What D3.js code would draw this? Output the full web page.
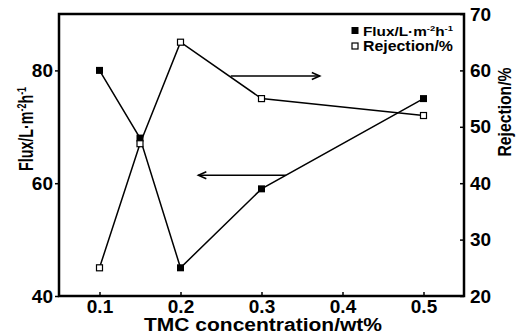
<!DOCTYPE html>
<html>
<head>
<meta charset="utf-8">
<script src="https://d3js.org/d3.v7.min.js"></script>
<style>
    body { margin: 0; background: #fff; }
    text { font-family: "Liberation Sans", Arial, sans-serif; font-weight: bold; fill: #000; }
</style>
</head>
<body>
<div class="chart-container"></div>
<script>
// values
var concentration = [0.1, 0.15, 0.2, 0.3, 0.5];
var flux = [80, 68, 45, 59, 75];
var rejection = [25, 47, 65, 55, 52];
var xTicks = [0.1, 0.2, 0.3, 0.4, 0.5];
var fluxTicks = [40, 60, 80];
var rejectionTicks = [20, 30, 40, 50, 60, 70];

var drawWidth = 517;
var drawHeight = 335;
var margin = { top: 14, right: 53, bottom: 39, left: 59 };
var width = drawWidth - margin.left - margin.right;
var height = drawHeight - margin.top - margin.bottom;

var svg = d3.select('.chart-container').append('svg')
    .attr('width', drawWidth)
    .attr('height', drawHeight);

var g = svg.append('g')
    .attr('transform', 'translate(' + margin.left + ',' + margin.top + ')');

var x = d3.scaleLinear().domain([0.05, 0.55]).range([0, width]);
var yL = d3.scaleLinear().domain([40, 90]).range([height, 0]);
var yR = d3.scaleLinear().domain([20, 70]).range([height, 0]);

// axes: bottom and right ticks point inward, left ticks outward
var xAxis = g.append('g')
    .attr('transform', 'translate(0,' + height + ')')
    .call(d3.axisBottom(x).tickValues(xTicks).tickSize(-4).tickPadding(3).tickFormat(d3.format('.1f')));
var leftAxis = g.append('g')
    .call(d3.axisLeft(yL).tickValues(fluxTicks).tickSize(4).tickPadding(2));
var rightAxis = g.append('g')
    .attr('transform', 'translate(' + width + ',0)')
    .call(d3.axisRight(yR).tickValues(rejectionTicks).tickSize(-4).tickPadding(6));

[xAxis, leftAxis, rightAxis].forEach(function (a) {
    a.select('.domain').remove();
    a.selectAll('.tick line').attr('stroke', '#000').attr('stroke-width', 1.5);
    a.selectAll('.tick text').style('font-size', '19px').attr('font-family', null);
});

// frame
g.append('rect')
    .attr('width', width)
    .attr('height', height)
    .attr('fill', 'none')
    .attr('stroke', '#000')
    .attr('stroke-width', 2.5);

// lines
var fluxLine = d3.line()
    .x(function (d, i) { return x(concentration[i]); })
    .y(function (d) { return yL(d); });
var rejLine = d3.line()
    .x(function (d, i) { return x(concentration[i]); })
    .y(function (d) { return yR(d); });

g.append('path').datum(flux)
    .attr('d', fluxLine).attr('fill', 'none').attr('stroke', '#000').attr('stroke-width', 1.5);
g.append('path').datum(rejection)
    .attr('d', rejLine).attr('fill', 'none').attr('stroke', '#000').attr('stroke-width', 1.5);

g.selectAll('.flux-pt').data(flux).enter().append('rect')
    .attr('class', 'flux-pt')
    .attr('x', function (d, i) { return x(concentration[i]) - 3.5; })
    .attr('y', function (d) { return yL(d) - 3.5; })
    .attr('width', 7).attr('height', 7)
    .attr('fill', '#000');

g.selectAll('.rej-pt').data(rejection).enter().append('rect')
    .attr('class', 'rej-pt')
    .attr('x', function (d, i) { return x(concentration[i]) - 3; })
    .attr('y', function (d) { return yR(d) - 3; })
    .attr('width', 6).attr('height', 6)
    .attr('fill', '#fff').attr('stroke', '#000').attr('stroke-width', 1.2);

// arrows pointing to the axis each curve belongs to
function arrow(x1, x2, yy) {
    var dir = x2 > x1 ? 1 : -1;
    g.append('line')
        .attr('x1', x1).attr('x2', x2).attr('y1', yy).attr('y2', yy)
        .attr('stroke', '#000').attr('stroke-width', 1.5);
    g.append('path')
        .attr('d', 'M' + (x2 - dir * 8) + ',' + (yy - 3.5) + 'L' + x2 + ',' + yy + 'L' + (x2 - dir * 8) + ',' + (yy + 3.5))
        .attr('fill', 'none').attr('stroke', '#000').attr('stroke-width', 1.5);
}
arrow(x(0.262), x(0.372), yR(59));
arrow(x(0.33), x(0.222), yL(61.4));

// axis titles
svg.append('text')
    .attr('x', 263).attr('y', 331)
    .attr('text-anchor', 'middle')
    .attr('textLength', 238).attr('lengthAdjust', 'spacingAndGlyphs')
    .style('font-size', '18px')
    .text('TMC concentration/wt%');

var lt = svg.append('text')
    .attr('transform', 'translate(33,129) rotate(-90)')
    .attr('text-anchor', 'middle')
    .attr('textLength', 84).attr('lengthAdjust', 'spacingAndGlyphs')
    .style('font-size', '21px');
lt.append('tspan').text('Flux/L·m');
lt.append('tspan').attr('dy', -7).style('font-size', '13px').text('-2');
lt.append('tspan').attr('dy', 7).text('h');
lt.append('tspan').attr('dy', -7).style('font-size', '13px').text('-1');

svg.append('text')
    .attr('transform', 'translate(511,112) rotate(-90)')
    .attr('text-anchor', 'middle')
    .attr('textLength', 89).attr('lengthAdjust', 'spacingAndGlyphs')
    .style('font-size', '18px')
    .text('Rejection/%');

// legend
var legend = svg.append('g').attr('transform', 'translate(355,0)');
legend.append('rect').attr('x', -3.5).attr('y', 27).attr('width', 7).attr('height', 7).attr('fill', '#000');
legend.append('rect').attr('x', -3).attr('y', 43).attr('width', 6).attr('height', 6)
    .attr('fill', '#fff').attr('stroke', '#000').attr('stroke-width', 1.2);

var l1 = legend.append('text').attr('x', 8).attr('y', 35.5).style('font-size', '13px')
    .attr('textLength', 90).attr('lengthAdjust', 'spacingAndGlyphs');
l1.append('tspan').text('Flux/L·m');
l1.append('tspan').attr('dy', -5).style('font-size', '8px').text('-2');
l1.append('tspan').attr('dy', 5).text('h');
l1.append('tspan').attr('dy', -5).style('font-size', '8px').text('-1');

legend.append('text').attr('x', 8).attr('y', 51).style('font-size', '14px')
    .attr('textLength', 90).attr('lengthAdjust', 'spacingAndGlyphs')
    .text('Rejection/%');
</script>
</body>
</html>
